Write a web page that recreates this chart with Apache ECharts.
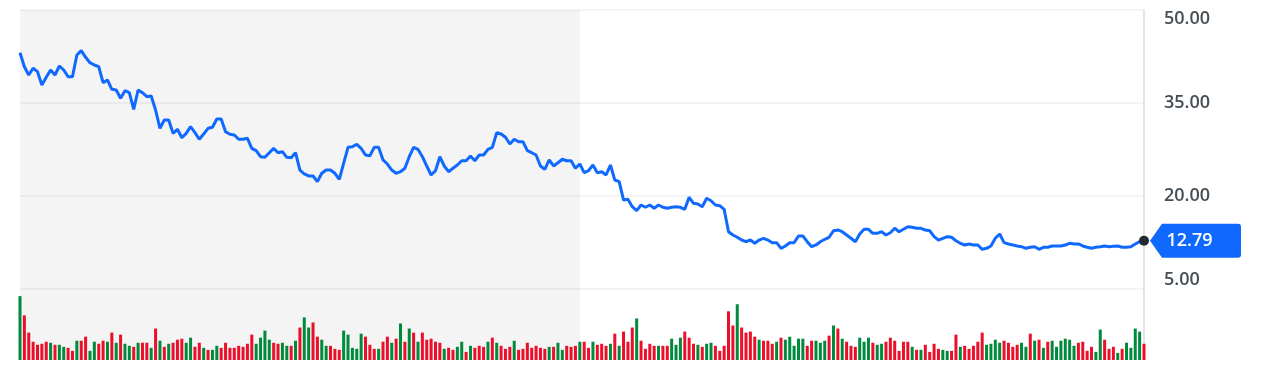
<!DOCTYPE html>
<html><head><meta charset="utf-8">
<script src="https://cdn.jsdelivr.net/npm/echarts@6/dist/echarts.min.js"></script>
<style>html,body{margin:0;padding:0;background:#fff}#c{width:1278px;height:366px}</style>
</head><body><div id="c"></div>
<script>
// Price axis ticks
const priceTicks = [5, 20, 35, 50];

// Daily closing prices (258 trading days)
const price = [
43.11,40.85,39.52,40.6,40.05,37.9,39.15,40.32,39.52,40.97,40.32,39.24,39.24,42.74,43.44,42.37,41.5,41.13,40.85,38.27,38.71,37.21,37.1,35.76,36.98,36.66,33.98,37.1,36.66,36.02,36.13,33.87,30.92,32.26,32.26,30.11,30.76,29.4,30.11,31.18,30.21,29.15,30.0,30.92,31.08,32.42,32.42,30.37,29.95,29.84,29.15,29.15,
29.31,
27.69,27.31,26.34,26.24,26.98,27.69,26.98,27.15,26.24,26.18,26.98,24.19,23.55,23.23,23.23,22.31,23.66,24.19,24.19,23.66,22.69,25.27,27.85,27.95,28.34,27.69,26.61,26.5,27.85,27.85,25.81,25.16,24.19,23.66,23.92,24.47,26.34,27.85,27.53,26.34,24.84,23.39,24.08,26.34,24.84,23.92,24.47,25.0,25.69,25.69,26.45,
25.69,26.61,26.61,27.53,27.85,30.21,30.0,29.47,28.39,29.15,28.76,28.76,27.31,26.98,26.61,24.84,24.31,25.81,24.84,25.37,25.92,25.69,25.69,24.47,25.16,23.76,24.08,25.0,23.76,23.92,23.39,25.0,22.58,22.31,19.35,19.47,18.27,17.63,18.55,18.18,18.55,18.02,18.55,18.18,18.02,18.18,18.27,18.18,17.85,19.79,18.82,
18.71,18.27,19.63,19.24,18.55,18.44,17.85,14.24,13.71,13.34,12.9,12.63,12.9,12.37,12.9,13.18,12.9,12.47,12.47,11.56,11.94,12.47,12.47,13.55,13.55,12.63,11.82,12.1,12.63,13.02,13.34,14.4,14.52,14.24,13.71,13.18,12.63,13.87,14.63,14.63,13.98,13.98,14.24,13.71,14.08,14.79,14.24,14.63,15.05,14.95,14.79,
14.79,
14.52,14.4,13.44,12.9,13.18,13.44,13.34,12.79,12.37,12.1,12.26,12.1,12.1,11.4,11.56,11.94,13.18,13.87,12.47,12.26,12.1,11.94,11.82,11.56,11.73,11.82,11.4,11.73,11.73,11.94,11.94,11.94,12.1,12.37,12.26,12.26,11.94,11.73,11.56,11.73,11.82,11.94,11.82,11.88,11.94,11.73,11.73,11.82,12.26,12.63,12.79
];

// Daily volume (relative units)
const volume = [
63,44,27,18,15,16,18,17,15,15,13,12,9,19,19,23,9,18,16,19,18,27,17,25,16,14,13,17,17,17,12,31,19,13,16,17,20,21,17,22,13,17,12,10,10,14,12,17,12,12,14,13,16,25,16,22,29,20,17,16,17,14,14,19,32,42,32,37,23,20,14,14,11,10,29,25,12,11,26,23,15,11,11,18,23,17,21,36,18,31,27,18,
27,20,21,18,17,11,12,10,13,18,8,14,12,14,13,18,22,17,14,11,13,19,10,11,17,12,14,12,11,13,13,17,10,14,13,14,18,18,12,18,15,16,14,16,26,14,28,18,32,41,19,11,16,14,14,14,14,21,15,22,28,22,16,15,13,16,17,14,9,14,48,34,55,32,27,28,23,20,19,19,16,18,22,20,23,14,21,21,
14,19,19,17,19,24,34,31,21,18,14,13,22,18,22,17,15,16,18,22,19,9,18,18,13,10,10,15,8,16,11,10,9,9,25,13,14,11,14,18,27,15,16,20,17,19,17,13,15,17,13,26,19,20,12,18,19,13,19,21,20,14,17,18,9,13,8,30,20,11,13,7,11,17,12,31,28,16
];

// Day direction: 1 = up (green), 0 = down (red)
const volumeUp = [
1,0,0,0,0,0,0,1,0,1,1,0,0,1,0,0,1,1,0,0,1,0,1,0,1,1,0,1,0,0,1,0,1,0,1,0,0,0,1,1,0,0,1,0,1,1,0,0,0,0,0,0,0,0,1,1,1,1,0,0,1,1,0,1,0,1,1,0,0,1,1,0,0,0,1,1,1,1,1,0,0,0,1,0,0,1,0,1,0,1,0,1,
0,0,0,0,0,1,0,0,1,1,0,1,0,0,0,1,0,1,0,0,0,1,0,0,0,0,0,0,0,1,0,1,1,0,0,0,1,0,0,1,0,0,0,1,0,1,0,0,0,1,0,0,0,0,1,0,0,1,1,1,0,0,0,1,0,1,1,0,0,0,0,0,1,0,0,0,0,1,0,0,0,1,0,1,1,1,1,1,
0,0,1,1,1,0,1,0,1,0,0,0,1,1,1,0,1,1,0,0,0,0,0,0,1,0,1,0,0,0,0,1,1,0,0,1,0,0,0,0,0,1,1,1,1,0,0,0,0,1,1,0,1,0,1,0,1,1,1,1,1,1,0,0,0,0,1,1,0,0,0,1,0,1,1,1,1,0
];

const shadedEndIndex = 128;
const days = price.map((_, i) => 'D' + (i + 1));
const lastIndex = price.length - 1;
const lastPrice = price[lastIndex];

const BLUE = '#0f69ff', GREEN = '#008a3c', RED = '#eb0f29';
const AXIS_COLOR = '#d9dbe6';
const FONT = 'Open Sans';
const SHADE = {silent: true, itemStyle: {color: 'rgba(0,0,0,0.045)'}, data: [[{xAxis: 0}, {xAxis: shadedEndIndex}]]};

const chart = echarts.init(document.getElementById('c'), null, {renderer: 'canvas'});
chart.setOption({
  animation: false,
  backgroundColor: '#ffffff',
  grid: [
    {left: 20, right: 134, top: 10, height: 279},
    {left: 20, right: 134, top: 289, height: 71}
  ],
  xAxis: [
    {type: 'category', gridIndex: 0, data: days, boundaryGap: false, show: false},
    {type: 'category', gridIndex: 1, data: days, boundaryGap: false, show: false}
  ],
  yAxis: [
    {
      type: 'value', gridIndex: 0, position: 'right',
      min: priceTicks[0], max: priceTicks[priceTicks.length - 1], interval: priceTicks[1] - priceTicks[0],
      axisLine: {show: true, lineStyle: {color: AXIS_COLOR, width: 1.5}},
      axisTick: {show: false},
      splitLine: {show: true, lineStyle: {color: 'rgba(0,0,0,0.06)', width: 1.5}},
      axisLabel: {
        margin: 20, fontSize: 18, fontWeight: 600, fontFamily: FONT, color: '#464e56',
        formatter: v => v.toFixed(2),
        verticalAlignMinLabel: 'bottom', verticalAlignMaxLabel: 'top'
      }
    },
    {
      type: 'value', gridIndex: 1, position: 'right', min: 0, max: 70,
      axisLine: {show: true, lineStyle: {color: AXIS_COLOR, width: 1.5}},
      axisTick: {show: false}, axisLabel: {show: false}, splitLine: {show: false}
    }
  ],
  series: [
    {
      // carrier for the shaded band in the volume pane
      type: 'line', xAxisIndex: 1, yAxisIndex: 1, data: volume,
      showSymbol: false, symbol: 'none', silent: true, z: 0,
      lineStyle: {opacity: 0}, markArea: SHADE
    },
    {
      type: 'bar', xAxisIndex: 1, yAxisIndex: 1, barWidth: 3,
      data: volume.map((v, i) => ({value: v, itemStyle: {color: volumeUp[i] ? GREEN : RED}}))
    },
    {
      type: 'line', xAxisIndex: 0, yAxisIndex: 0, data: price,
      showSymbol: false, symbol: 'none', z: 3,
      lineStyle: {color: BLUE, width: 3},
      markArea: SHADE,
      markPoint: {
        silent: true,
        data: [
          {
            coord: [lastIndex, lastPrice], value: lastPrice,
            symbol: 'path://M0,17L12,0L88,0Q91,0,91,3L91,31Q91,34,88,34L12,34Z',
            symbolSize: [91, 34], symbolOffset: [51.5, 0],
            itemStyle: {color: BLUE},
            label: {
              show: true, position: 'inside', offset: [-6, 0],
              formatter: p => p.value.toFixed(2),
              color: '#ffffff', fontSize: 18, fontWeight: 600, fontFamily: FONT
            }
          },
          {
            coord: [lastIndex, lastPrice], value: lastPrice,
            symbol: 'circle', symbolSize: 10,
            itemStyle: {color: '#232a31'},
            label: {show: false}
          }
        ]
      }
    }
  ]
});
</script>
</body></html>
